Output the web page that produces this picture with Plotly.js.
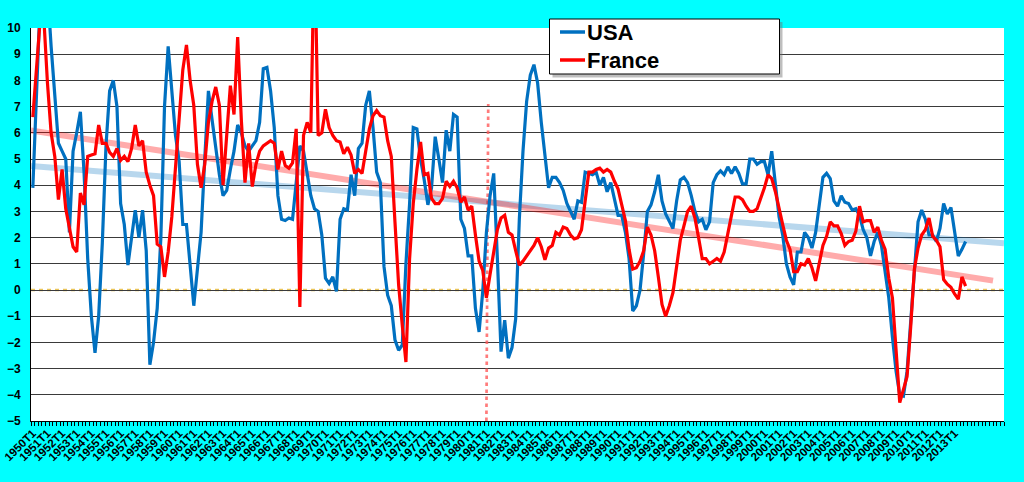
<!DOCTYPE html>
<html><head><meta charset="utf-8">
<script src="https://cdn.plot.ly/plotly-3.0.1.min.js"></script>
<style>html,body{margin:0;padding:0;background:#00FFFF;overflow:hidden}#chart{width:1024px;height:482px}</style>
</head><body><div id="chart"></div>
<script>
// ---- data ----
const firstYear = 1950, lastYear = 2013;
const quarters = [];
for (let y = firstYear; y <= lastYear; y++) for (let q = 1; q <= 4; q++) quarters.push(y + 'T' + q);

const usa = [
 3.9, 8.0, 11.0, 13.0, 11.5, 9.3, 7.5, 5.6, 5.3, 5.0,
 2.2, 5.3, 6.0, 6.8, 4.5, 1.2, -1.0, -2.4, -1.0, 1.8,
 5.5, 7.6, 8.0, 7.0, 3.3, 2.5, 0.95, 2.0, 3.05, 2.0,
 3.05, 1.5, -2.85, -2.0, -0.7, 2.0, 7.0, 9.3, 7.5, 5.9,
 4.9, 2.5, 2.5, 1.0, -0.6, 0.8, 2.2, 5.0, 7.6, 6.5,
 5.4, 4.4, 3.6, 3.8, 4.6, 5.3, 6.3, 6.0, 5.5, 5.3,
 5.5, 5.7, 6.4, 8.45, 8.5, 7.6, 6.2, 3.6, 2.7, 2.65,
 2.75, 2.7, 4.1, 5.5, 5.3, 4.5, 3.6, 3.1, 3.0, 2.1,
 0.45, 0.25, 0.5, -0.05, 2.7, 3.1, 3.05, 4.4, 3.6, 5.4,
 5.6, 7.05, 7.6, 6.2, 4.5, 4.1, 0.9, -0.2, -0.6, -1.9,
 -2.3, -2.1, 1.0, 3.3, 6.2, 6.15, 5.0, 4.2, 3.25, 3.9,
 5.85, 5.0, 4.1, 6.1, 5.3, 6.7, 6.6, 2.7, 2.35, 1.3,
 1.3, -0.7, -1.6, -0.05, 2.2, 3.6, 4.45, 1.2, -2.35, -1.15,
 -2.6, -2.2, -1.1, 2.7, 5.3, 7.2, 8.2, 8.6, 7.9, 6.4,
 5.0, 3.9, 4.3, 4.3, 4.1, 3.8, 3.3, 3.0, 2.7, 3.4,
 3.35, 4.5, 4.45, 4.4, 4.5, 4.0, 4.3, 3.75, 4.1, 3.5,
 2.85, 2.85, 2.2, 1.2, -0.8, -0.6, 0.0, 1.4, 3.0, 3.25,
 3.75, 4.4, 3.4, 2.9, 2.6, 2.35, 3.4, 4.2, 4.3, 4.1,
 3.6, 3.0, 2.6, 2.7, 2.3, 2.6, 4.1, 4.4, 4.55, 4.4,
 4.7, 4.45, 4.7, 4.45, 4.05, 4.05, 5.0, 5.0, 4.8, 4.9,
 4.9, 4.4, 5.3, 4.0, 2.8, 2.1, 1.0, 0.5, 0.2, 1.45,
 1.45, 2.2, 2.0, 1.6, 2.2, 3.25, 4.3, 4.45, 4.25, 3.4,
 3.2, 3.6, 3.35, 3.3, 3.05, 3.1, 2.85, 2.3, 2.0, 1.3,
 1.85, 2.2, 1.7, 0.7, -0.3, -1.8, -3.1, -4.0, -4.05, -3.1,
 -1.1, 0.95, 2.6, 3.05, 2.7, 2.1, 2.1, 1.85, 2.35, 3.3,
 2.9, 3.15, 2.2, 1.3, 1.55, 1.85
];

const france = [
 6.6, 8.4, 10.3, 10.4, 7.9, 6.0, 5.1, 3.45, 4.6, 3.1,
 2.4, 1.65, 1.45, 3.7, 3.25, 5.1, 5.15, 5.2, 6.3, 5.6,
 5.6, 5.25, 5.1, 5.4, 4.95, 5.1, 4.9, 5.4, 6.3, 5.5,
 5.7, 4.5, 4.0, 3.6, 1.75, 1.65, 0.5, 1.45, 2.8, 4.6,
 6.5, 8.4, 9.35, 8.0, 7.05, 4.8, 3.9, 4.8, 6.4, 7.2,
 7.75, 7.05, 4.0, 5.8, 7.8, 6.7, 9.65, 6.5, 4.1, 5.6,
 3.95, 4.8, 5.3, 5.5, 5.6, 5.7, 5.6, 4.6, 5.3, 4.75,
 4.65, 4.85, 6.15, -0.65, 5.9, 6.4, 6.0, 13.5, 5.9, 6.0,
 6.9, 6.2, 5.9, 5.7, 5.65, 5.2, 5.45, 5.15, 4.45, 4.6,
 4.45, 5.25, 6.15, 6.65, 6.85, 6.65, 6.6, 5.7, 5.1, 2.6,
 0.2, -1.35, -2.75, 1.2, 3.3, 4.6, 5.65, 4.4, 4.45, 3.5,
 3.3, 3.3, 3.5, 4.15, 3.95, 4.15, 3.9, 3.35, 3.55, 3.05,
 3.2, 2.1, 1.1, 0.75, -0.3, 0.6, 1.5, 2.3, 2.75, 2.85,
 2.2, 2.1, 1.5, 0.95, 1.1, 1.3, 1.55, 1.7, 2.0, 1.65,
 1.15, 1.6, 1.7, 2.2, 2.1, 2.4, 2.35, 2.1, 1.95, 2.0,
 2.3, 3.3, 4.5, 4.5, 4.6, 4.65, 4.5, 4.6, 4.5, 4.15,
 3.85, 3.25, 2.65, 1.55, 0.8, 0.85, 1.1, 1.5, 2.4, 2.1,
 1.5, 0.5, -0.55, -1.0, -0.6, -0.1, 0.85, 1.9, 2.45, 3.0,
 3.2, 2.75, 2.0, 1.2, 1.2, 1.0, 1.1, 1.2, 1.1, 1.45,
 2.15, 2.9, 3.55, 3.55, 3.45, 3.2, 3.0, 3.0, 3.1, 3.5,
 3.9, 4.4, 4.25, 3.75, 3.05, 2.5, 1.9, 1.55, 0.7, 0.7,
 1.0, 0.95, 1.2, 0.85, 0.35, 1.1, 1.7, 2.05, 2.6, 2.45,
 2.45, 2.15, 1.7, 1.85, 1.9, 2.25, 3.2, 2.6, 2.65, 2.65,
 2.2, 2.4, 1.9, 1.55, 0.45, -0.3, -2.5, -4.3, -3.8, -3.3,
 -1.4, 0.8, 1.6, 2.1, 2.3, 2.75, 2.05, 1.9, 1.65, 0.4,
 0.22, 0.1, -0.15, -0.35, 0.5, 0.15
];

const seriesNames = ['USA', 'France'];
const seriesColors = ['#0070C0', '#FF0000'];
const trendColors = ['rgba(0,112,192,0.28)', 'rgba(255,0,0,0.33)'];
const trendForward = [10, 7];          // forecast periods of the linear trend
const markerQuarter = '1981T1';        // dotted vertical marker
const markerTop = 7.1;
const yMin = -5, yMax = 10;

// ---- helpers ----
const idx = quarters.map((_, i) => i);
function linTrend(vals, fwd) {
  const n = vals.length; let sx = 0, sy = 0, sxx = 0, sxy = 0;
  vals.forEach((v, i) => { sx += i; sy += v; sxx += i * i; sxy += i * v; });
  const b = (n * sxy - sx * sy) / (n * sxx - sx * sx);
  const a = (sy - b * sx) / n;
  const x0 = -0.5, x1 = n - 1 + fwd + 0.5;
  return { x: [x0, x1], y: [a + b * x0, a + b * x1] };
}
const M = { l: 31, r: 20, t: 28, b: 61 }, W = 1024, H = 482;
const pw = W - M.l - M.r, ph = H - M.t - M.b;
const px2x = p => (p - M.l) / pw;
const px2y = p => (H - M.b - p) / ph;

const series = [usa, france];
const traces = [];
series.forEach((s, k) => {
  const t = linTrend(s, trendForward[k]);
  traces.push({ x: t.x, y: t.y, mode: 'lines', line: { color: trendColors[k], width: 6 }, hoverinfo: 'skip', showlegend: false });
});
series.forEach((s, k) => {
  traces.push({ x: idx, y: s, name: seriesNames[k], mode: 'lines', line: { color: seriesColors[k], width: 3.2 } });
});

const tickIdx = idx.filter(i => quarters[i].endsWith('T1'));
const tickTxt = tickIdx.map(i => quarters[i]);
const xMax = Math.max(usa.length - 1 + trendForward[0], france.length - 1 + trendForward[1]) + 0.5;
const mIdx = quarters.indexOf(markerQuarter);

const shapes = [
  { type: 'line', xref: 'paper', yref: 'y', x0: 0, x1: 1, y0: 0, y1: 0, layer: 'between',
    line: { color: '#EBC55A', width: 2.5, dash: '4px,4px' } },
  { type: 'line', xref: 'x', yref: 'y', x0: mIdx, x1: mIdx + 0.5, y0: yMin, y1: markerTop, layer: 'between',
    line: { color: 'rgba(255,90,90,0.8)', width: 2.7, dash: '3.5px,3.5px' } },
  // legend box shadow + box
  { type: 'rect', xref: 'paper', yref: 'paper', x0: px2x(552.5), x1: px2x(782.5), y0: px2y(77.5), y1: px2y(22), layer: 'above',
    fillcolor: 'rgba(110,110,110,0.45)', line: { width: 0 } },
  { type: 'rect', xref: 'paper', yref: 'paper', x0: px2x(549.5), x1: px2x(779.5), y0: px2y(74), y1: px2y(19), layer: 'above',
    fillcolor: '#FFFFFF', line: { color: '#000000', width: 1 } }
];
const annotations = [];
const legendRows = [32, 60];
seriesNames.forEach((nm, k) => {
  shapes.push({ type: 'line', xref: 'paper', yref: 'paper', x0: px2x(560), x1: px2x(585), y0: px2y(legendRows[k]), y1: px2y(legendRows[k]),
    layer: 'above', line: { color: seriesColors[k], width: 3.5 } });
  annotations.push({ xref: 'paper', yref: 'paper', x: px2x(585), y: px2y(legendRows[k] + 0.5), xanchor: 'left', yanchor: 'middle',
    text: nm, showarrow: false, font: { family: 'Liberation Sans, Arial, sans-serif', size: 22, weight: 'bold', color: '#000' } });
});

const layout = {
  width: W, height: H, margin: M,
  paper_bgcolor: '#00FFFF', plot_bgcolor: '#FFFFFF',
  showlegend: false,
  xaxis: {
    range: [-0.5, xMax], tickmode: 'array', tickvals: tickIdx, ticktext: tickTxt, tickangle: -45,
    ticks: '', showgrid: false, zeroline: false, showline: true, linecolor: '#000', linewidth: 1,
    tickfont: { family: 'Liberation Sans, Arial, sans-serif', size: 11.5, weight: 'bold', color: '#000' },
    minor: { tickmode: 'linear', tick0: -0.5, dtick: 1, ticks: 'outside', ticklen: 4, tickwidth: 1, tickcolor: '#000', showgrid: false },
    fixedrange: true
  },
  yaxis: {
    range: [yMin, yMax], tickmode: 'linear', tick0: 0, dtick: 1, ticks: '',
    showgrid: true, gridcolor: '#3a3a3a', gridwidth: 1, zeroline: false,
    showline: true, linecolor: '#000', linewidth: 1, ticklabelstandoff: 7,
    tickfont: { family: 'Liberation Sans, Arial, sans-serif', size: 12, weight: 'bold', color: '#000' },
    fixedrange: true
  },
  shapes: shapes, annotations: annotations
};
Plotly.newPlot('chart', traces, layout, { displayModeBar: false, staticPlot: true });
</script></body></html>
